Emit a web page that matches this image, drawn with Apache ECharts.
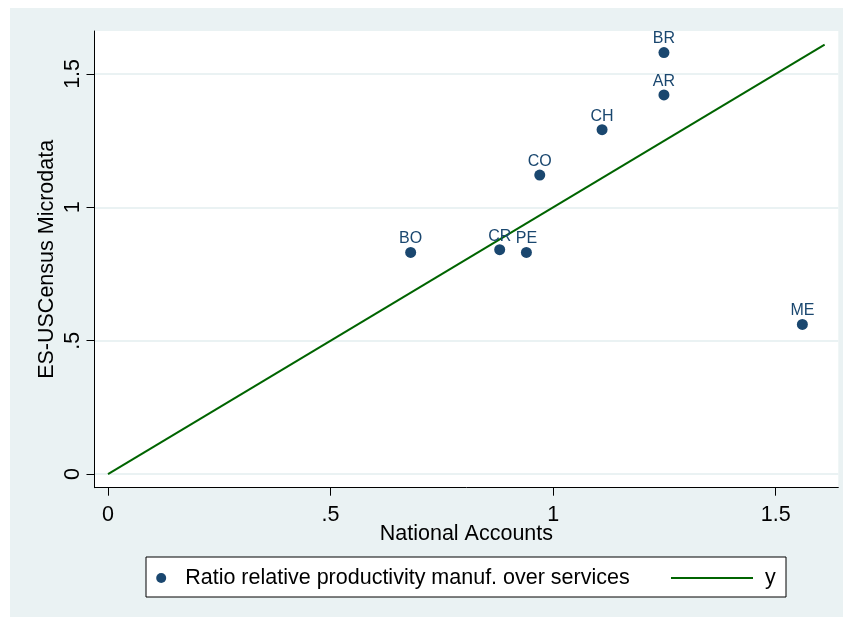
<!DOCTYPE html>
<html>
<head>
<meta charset="utf-8">
<script src="https://cdn.jsdelivr.net/npm/echarts@6/dist/echarts.min.js"></script>
<style>
  html, body { margin: 0; padding: 0; background: #ffffff; }
  #chart { width: 847px; height: 619px; }
</style>
</head>
<body>
<div id="chart"></div>
<script>
// Relative productivity (manufacturing over services): two data sources
const countries = ['AR', 'BO', 'BR', 'CH', 'CO', 'CR', 'ME', 'PE'];
const nationalAccounts = [1.249, 0.680, 1.249, 1.110, 0.970, 0.880, 1.560, 0.940];
const censusMicrodata = [1.421, 0.831, 1.580, 1.291, 1.121, 0.841, 0.561, 0.831];

// 45-degree reference line y = x
const refLineX = [0, 1.61];
const refLineY = [0, 1.61];

// Axis ticks and their printed labels
const tickValues = [0, 0.5, 1, 1.5];
const tickLabels = ['0', '.5', '1', '1.5'];

const scatterName = 'Ratio relative productivity manuf. over services';
const lineName = 'y';
const xTitle = 'National Accounts';
const yTitle = 'ES-USCensus Microdata';

const FONT = "'Liberation Sans', Arial, Helvetica, sans-serif";
const FS = 21.5;
const NAVY = '#1a476f';
const GREEN = '#006400';
const PANEL = '#eaf2f3';

const fmtTick = v => {
  const i = tickValues.indexOf(v);
  return i >= 0 ? tickLabels[i] : '';
};

const scatterData = countries.map((c, i) => ({ name: c, value: [nationalAccounts[i], censusMicrodata[i]] }));
const lineData = refLineX.map((x, i) => [x, refLineY[i]]);

const axisCommon = {
  type: 'value',
  axisLine: { show: true, onZero: false, lineStyle: { color: '#000', width: 1 } },
  axisTick: { show: true, length: 8, customValues: tickValues, lineStyle: { color: '#000', width: 1 } },
  axisLabel: { customValues: tickValues, formatter: fmtTick, color: '#000', fontSize: FS, fontFamily: FONT },
  nameLocation: 'middle',
  nameMoveOverlap: false,
  nameTextStyle: { color: '#000', fontSize: FS, fontFamily: FONT }
};

const chart = echarts.init(document.getElementById('chart'), null, { renderer: 'canvas' });

chart.setOption({
  animation: false,
  backgroundColor: '#ffffff',
  graphic: [
    { type: 'rect', z: -10, silent: true, shape: { x: 10, y: 8, width: 833, height: 609 }, style: { fill: PANEL } },
    { type: 'rect', z: 1, silent: true, shape: { x: 146, y: 557, width: 640, height: 40 }, style: { fill: '#fff', stroke: '#000', lineWidth: 1 } }
  ],
  grid: {
    left: 94.5, right: 8.7, top: 31, bottom: 131.3,
    show: true, backgroundColor: '#ffffff', borderWidth: 0
  },
  xAxis: Object.assign({}, axisCommon, {
    min: -0.0303, max: 1.6407,
    name: xTitle, nameGap: 35,
    axisLabel: Object.assign({}, axisCommon.axisLabel, { margin: 16 }),
    splitLine: { show: false }
  }),
  yAxis: Object.assign({}, axisCommon, {
    min: -0.051, max: 1.6608,
    name: yTitle, nameGap: 36, nameRotate: 90,
    axisLabel: Object.assign({}, axisCommon.axisLabel, { rotate: 90, margin: 10 }),
    splitLine: { show: true, lineStyle: { color: PANEL, width: 2 } }
  }),
  legend: [
    {
      data: [{ name: scatterName, icon: 'circle' }],
      left: 156.2, top: 567, padding: 0,
      itemWidth: 38, itemHeight: 10,
      selectedMode: false,
      textStyle: { color: '#000', fontSize: FS, fontFamily: FONT }
    },
    {
      data: [{ name: lineName, icon: 'rect' }],
      left: 671, top: 567, padding: 0,
      itemWidth: 82, itemHeight: 2,
      selectedMode: false,
      textStyle: { color: '#000', fontSize: FS, fontFamily: FONT, padding: [0, 0, 0, 7] }
    }
  ],
  series: [
    {
      name: lineName,
      type: 'line',
      data: lineData,
      symbol: 'none',
      color: GREEN,
      itemStyle: { color: GREEN },
      lineStyle: { color: GREEN, width: 2 },
      z: 2
    },
    {
      name: scatterName,
      type: 'scatter',
      data: scatterData,
      symbol: 'circle',
      symbolSize: 11,
      itemStyle: { color: NAVY, opacity: 1 },
      label: {
        show: true, position: 'top', distance: 0,
        formatter: p => p.name,
        color: NAVY, fontSize: 16, fontFamily: FONT
      },
      z: 3
    }
  ]
});
</script>
</body>
</html>
